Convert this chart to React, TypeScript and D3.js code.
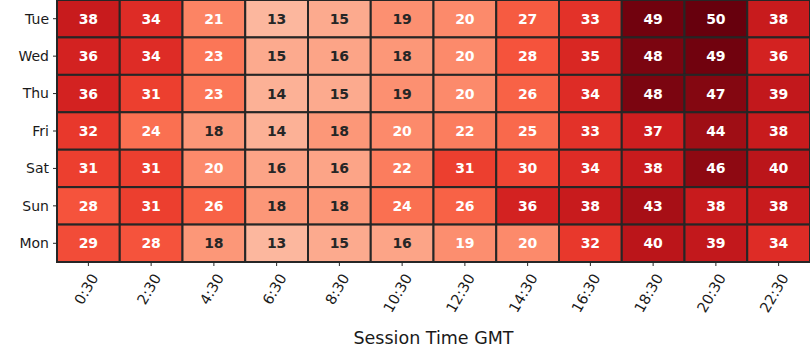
import React from "react";
import * as d3 from "d3";

const days = ["Tue", "Wed", "Thu", "Fri", "Sat", "Sun", "Mon"];
const times = ["0:30", "2:30", "4:30", "6:30", "8:30", "10:30", "12:30", "14:30", "16:30", "18:30", "20:30", "22:30"];
const tue = [38, 34, 21, 13, 15, 19.1, 20, 27, 33, 49, 50, 38];
const wed = [36, 34, 23, 15, 16, 18, 20, 28, 35, 48, 49, 36];
const thu = [36, 31, 23, 14, 15, 19.1, 20, 26, 34, 48, 47, 39];
const fri = [32, 24, 18, 14, 18, 20, 22, 25, 33, 37, 44, 38];
const sat = [31, 31, 20, 16, 16, 22, 31, 30, 34, 38, 46, 40];
const sun = [28, 31, 26, 18, 18, 24, 26, 36, 38, 43, 38, 38];
const mon = [29, 28, 18, 13, 15, 16, 19.4, 20, 32, 40, 39, 34];
const rows = [tue, wed, thu, fri, sat, sun, mon];
const xTitle = "Session Time GMT";

const W = 810, H = 360;
const M = { left: 57, right: 810, top: 0, bottom: 262 };

export default function App() {
  const x = d3.scaleBand<string>().domain(times).range([M.left, M.right]);
  const y = d3.scaleBand<string>().domain(days).range([M.top, M.bottom]);
  const color = d3.scaleSequential(d3.interpolateReds).domain([0, 50]);
  const fmt = d3.format(".0f");
  const font = "DejaVu Sans, sans-serif";
  return (
    <svg width={W} height={H} style={{ position: "absolute", left: 0, top: 0 }} fontFamily={font}>
      <rect width={W} height={H} fill="#fff" />
      {rows.map((r, i) =>
        r.map((v, j) => (
          <g key={`${i}-${j}`}>
            <rect
              x={x(times[j])!}
              y={y(days[i])!}
              width={x.bandwidth()}
              height={y.bandwidth()}
              fill={color(v)}
              stroke="#262626"
              strokeWidth={2}
            />
            <text
              x={x(times[j])! + x.bandwidth() / 2}
              y={y(days[i])! + y.bandwidth() / 2}
              dy="0.36em"
              textAnchor="middle"
              fontSize={14}
              fontWeight="bold"
              fill={v >= 19.3 ? "#ffffff" : "#262626"}
            >
              {fmt(v)}
            </text>
          </g>
        ))
      )}
      {days.map((d) => {
        const cy = y(d)! + y.bandwidth() / 2;
        return (
          <g key={d}>
            <line x1={M.left - 4} x2={M.left} y1={cy} y2={cy} stroke="#262626" strokeWidth={1} />
            <text x={M.left - 8} y={cy} dy="0.35em" textAnchor="end" fontSize={14} fill="#1a1a1a">
              {d}
            </text>
          </g>
        );
      })}
      {times.map((t) => {
        const cx = x(t)! + x.bandwidth() / 2;
        return (
          <g key={t}>
            <line x1={cx} x2={cx} y1={M.bottom} y2={M.bottom + 4} stroke="#262626" strokeWidth={1} />
            <text
              transform={`translate(${cx + 6},${M.bottom + 13}) rotate(-60)`}
              textAnchor="end"
              dy="0.35em"
              fontSize={14.5}
              fill="#1a1a1a"
            >
              {t}
            </text>
          </g>
        );
      })}
      <text x={(M.left + M.right) / 2} y={344} textAnchor="middle" fontSize={17.5} fill="#1a1a1a">
        {xTitle}
      </text>
    </svg>
  );
}
